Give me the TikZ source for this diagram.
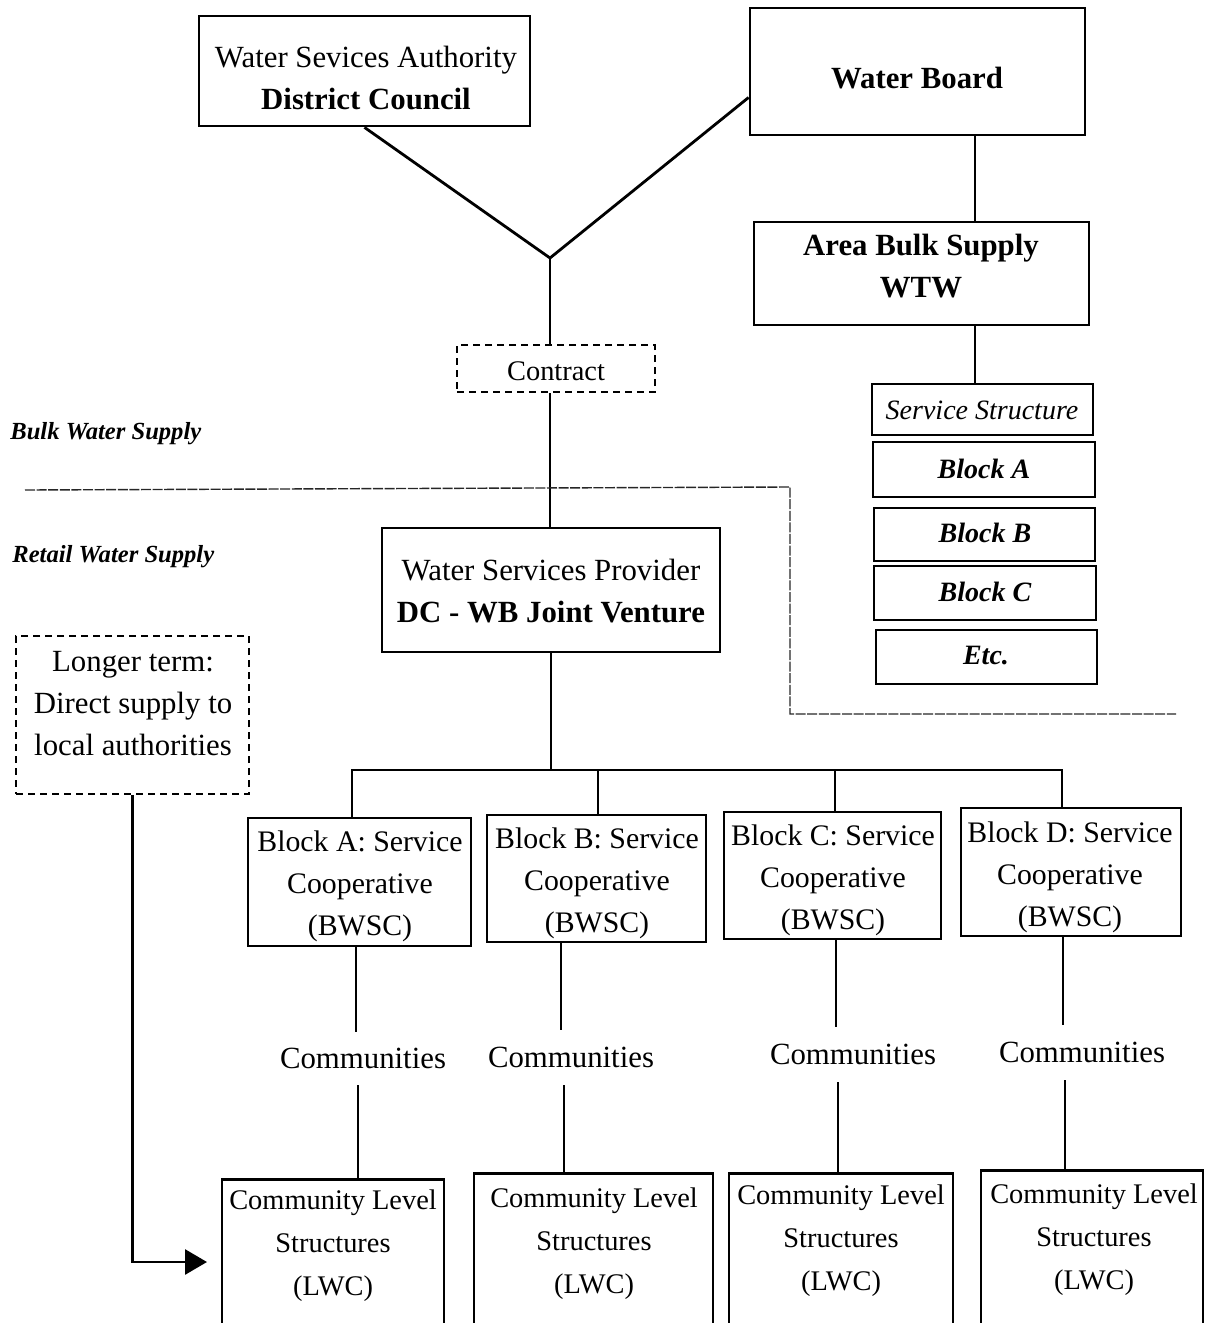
\documentclass[tikz,border=0pt]{standalone}
\usepackage{fontspec}
\setmainfont{Liberation Serif}
\usetikzlibrary{arrows.meta,calc}
\begin{document}
\begin{tikzpicture}[x=0.5pt,y=-0.5pt,
 box/.style={draw,line width=1.4pt,inner sep=0pt},
 dbox/.style={draw,line width=1.2pt,dash pattern=on 3.5pt off 2.5pt,inner sep=0pt},
 txt/.style={align=center,inner sep=0pt,font=\fontsize{15.4}{21}\selectfont},
 btxt/.style={align=center,inner sep=0pt,font=\fontsize{14.9}{21}\selectfont},
 stxt/.style={align=center,inner sep=0pt,font=\fontsize{14.2}{21.5}\selectfont},
 itxt/.style={inner sep=0pt,font=\fontsize{14}{17}\selectfont\bfseries\itshape},
 side/.style={anchor=west,inner sep=0pt,font=\fontsize{12.3}{15}\selectfont\bfseries\itshape},
 conn/.style={line width=1.4pt},
 divider/.style={line width=0.7pt,black!85,dash pattern=on 5pt off 0.8pt},
 arrow/.style={line width=1.4pt,-{Triangle[length=11pt,width=12.5pt]}}]
\useasboundingbox (0,0) rectangle (1208,1323);
\clip (0,0) rectangle (1208,1323);

% top boxes
\node[box,minimum width=165.5pt,minimum height=55pt] (wsa) at (364.5,71) {};
\node[txt] (wsat) at (366,78) {Water Sevices Authority\\\textbf{District Council}};
\node[box,minimum width=167.5pt,minimum height=63.5pt] (wb) at (917.5,71.5) {};
\node[txt,font=\fontsize{15.4}{21}\selectfont\bfseries] (wbt) at (917,78) {Water Board};
\node[box,minimum width=167.5pt,minimum height=51.5pt] (abs) at (921.5,273.5) {};
\node[txt,font=\fontsize{15.4}{21}\selectfont\bfseries] (abst) at (921,266) {Area Bulk Supply\\WTW};

% contract and provider
\node[dbox,minimum width=99pt,minimum height=23.5pt] (contract) at (556,368.5) {};
\node[stxt] (contractt) at (556,371) {Contract};
\node[box,minimum width=169pt,minimum height=62pt] (wsp) at (551,590) {};
\node[txt] (wspt) at (551,591) {Water Services Provider\\\textbf{DC - WB Joint Venture}};

% service structure column
\node[box,minimum width=110.5pt,minimum height=25.5pt] (ss) at (982.5,409.5) {};
\node[itxt,font=\fontsize{14}{17}\selectfont\itshape] (sst) at (982,410) {Service Structure};
\node[box,minimum width=111pt,minimum height=27.5pt] (sba) at (984,469.5) {};
\node[itxt] (sbat) at (984,469) {Block A};
\node[box,minimum width=110.5pt,minimum height=26.5pt] (sbb) at (984.5,534.5) {};
\node[itxt] (sbbt) at (985,533) {Block B};
\node[box,minimum width=111pt,minimum height=27pt] (sbc) at (985,593) {};
\node[itxt] (sbct) at (985,592) {Block C};
\node[box,minimum width=110.5pt,minimum height=27pt] (etc) at (986.5,657) {};
\node[itxt] (etct) at (986,656) {Etc.};

% side labels
\node[side] (bulk) at (10,434) {Bulk Water Supply};
\node[side] (retail) at (12,557) {Retail Water Supply};

% longer term
\node[dbox,minimum width=116.5pt,minimum height=79pt] (lt) at (132.5,715) {};
\node[txt] (ltt) at (133,704) {Longer term:\\Direct supply to\\local authorities};

% block cooperatives
\node[box,minimum width=111.5pt,minimum height=64pt] (blkA) at (359.5,882) {};
\node[btxt] (blkAt) at (360,886) {Block A: Service\\Cooperative\\(BWSC)};
\node[box,minimum width=109.5pt,minimum height=63.5pt] (blkB) at (596.5,878.5) {};
\node[btxt] (blkBt) at (597,883) {Block B: Service\\Cooperative\\(BWSC)};
\node[box,minimum width=108.5pt,minimum height=63.5pt] (blkC) at (832.5,875.5) {};
\node[btxt] (blkCt) at (833,880) {Block C: Service\\Cooperative\\(BWSC)};
\node[box,minimum width=110pt,minimum height=64pt] (blkD) at (1071,872) {};
\node[btxt] (blkDt) at (1070,877) {Block D: Service\\Cooperative\\(BWSC)};

% communities
\node[txt,minimum height=26.5pt] (commA) at (363,1058.5) {Communities};
\node[txt,minimum height=27.5pt] (commB) at (571,1057.5) {Communities};
\node[txt,minimum height=27.5pt] (commC) at (853,1054.5) {Communities};
\node[txt,minimum height=27.5pt] (commD) at (1082,1052.5) {Communities};

% community level structures
\node[box,anchor=north,minimum width=111pt,minimum height=85pt] (clsA) at (333,1178) {};
\node[stxt] (clsAt) at (333,1246) {Community Level\\Structures\\(LWC)};
\node[box,anchor=north,minimum width=119.5pt,minimum height=88pt] (clsB) at (593.5,1172) {};
\node[stxt] (clsBt) at (594,1244) {Community Level\\Structures\\(LWC)};
\node[box,anchor=north,minimum width=112pt,minimum height=88pt] (clsC) at (841,1172) {};
\node[stxt] (clsCt) at (841,1241) {Community Level\\Structures\\(LWC)};
\node[box,anchor=north,minimum width=111pt,minimum height=90pt] (clsD) at (1092,1169) {};
\node[stxt] (clsDt) at (1094,1240) {Community Level\\Structures\\(LWC)};

% connectors
\coordinate (junc) at (550,258);
\coordinate (vx) at (975,0);
\coordinate (bus) at (0,770);
\draw[conn] (wsa.south) -- (junc);
\draw[conn] ($(wb.south west)!0.3!(wb.north west)$) -- (junc);
\draw[conn] (junc) -- (junc |- contract.north);
\draw[conn] (contract.south -| junc) -- (wsp.north -| junc);
\draw[conn] (wb.south -| vx) -- (abs.north -| vx);
\draw[conn] (abs.south -| vx) -- (ss.north -| vx);

\draw[conn] (wsp.south) -- (wsp.south |- bus);
\draw[conn] ([xshift=-3.75pt]blkA.north) -- ([xshift=-3.75pt]blkA.north |- bus)
   -- ([xshift=-4.5pt]blkD.north |- bus) -- ([xshift=-4.5pt]blkD.north);
\draw[conn] ([xshift=0.75pt]blkB.north) -- ([xshift=0.75pt]blkB.north |- bus);
\draw[conn] ([xshift=1.25pt]blkC.north) -- ([xshift=1.25pt]blkC.north |- bus);

\draw[conn] ([xshift=-3.5pt]commA.north) -- ([xshift=-3.5pt]commA.north |- blkA.south);
\draw[conn] ([xshift=-2.5pt]commA.south) -- ([xshift=-2.5pt]commA.south |- clsA.north);
\draw[conn] ([xshift=-5pt]commB.north) -- ([xshift=-5pt]commB.north |- blkB.south);
\draw[conn] ([xshift=-3.5pt]commB.south) -- ([xshift=-3.5pt]commB.south |- clsB.north);
\draw[conn] ([xshift=-8.5pt]commC.north) -- ([xshift=-8.5pt]commC.north |- blkC.south);
\draw[conn] ([xshift=-7.5pt]commC.south) -- ([xshift=-7.5pt]commC.south |- clsC.north);
\draw[conn] ([xshift=-9.5pt]commD.north) -- ([xshift=-9.5pt]commD.north |- blkD.south);
\draw[conn] ([xshift=-8.5pt]commD.south) -- ([xshift=-8.5pt]commD.south |- clsD.north);

% longer-term arrow
\coordinate (arr) at (207,1262);
\draw[arrow] (lt.south) |- (arr);

% bulk / retail divider
\draw[divider] (25,490) -- (790,487) -- (790,714) -- (1176,714);
\end{tikzpicture}
\end{document}
